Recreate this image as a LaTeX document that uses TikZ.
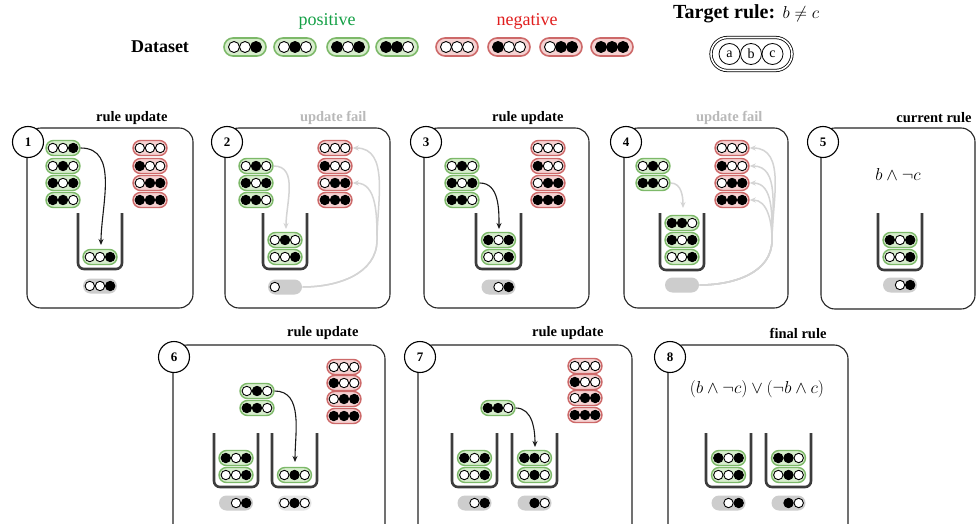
\documentclass[tikz,border=0pt]{standalone}
\usepackage{fontspec}
\setmainfont{Liberation Serif}
\usetikzlibrary{shapes.misc,arrows.meta}
\definecolor{gstroke}{RGB}{125,185,105}
\definecolor{gfill}{RGB}{215,237,205}
\definecolor{rstroke}{RGB}{205,105,105}
\definecolor{rfill}{RGB}{245,210,210}
\definecolor{graypill}{RGB}{205,205,205}
\definecolor{graypilll}{RGB}{228,228,228}
\definecolor{bucketc}{RGB}{60,60,60}
\definecolor{posc}{RGB}{20,160,70}
\definecolor{negc}{RGB}{225,30,30}
\definecolor{failc}{RGB}{185,185,185}
\definecolor{garrc}{RGB}{212,212,212}
\newcommand{\pil}[5]{\node[#2] (#1) at (#3,#4) {};
  \foreach \v [count=\i] in {#5} {\node[dot\v, xshift={(\i-2)*10.2pt}] at (#1.center) {};}}
\newcommand{\bpil}[5]{\node[#2] (#1) at (#3,#4) {};
  \foreach \v [count=\i] in {#5} {\node[dot\v, minimum size=11pt, xshift={(\i-2)*11pt}] at (#1.center) {};}}
\newcommand{\bucketdraw}[4]{\draw[bucketline] (#1,#3) -- (#1,#4) -- (#2,#4) -- (#2,#3);}
\begin{document}
\begin{tikzpicture}[x=1pt,y=-1pt,
  pillbase/.style={rounded rectangle, inner sep=0pt, minimum width=34pt, minimum height=15pt, line width=1.4pt},
  pospill/.style={pillbase, draw=gstroke, fill=gfill},
  negpill/.style={pillbase, draw=rstroke, fill=rfill},
  grypill/.style={pillbase, fill=graypill},
  grylpill/.style={pillbase, fill=graypilll},
  bpospill/.style={pospill, minimum width=42pt, minimum height=18pt, line width=1.6pt},
  bnegpill/.style={negpill, minimum width=42pt, minimum height=18pt, line width=1.6pt},
  dotb/.style={circle, draw=black, fill=black, line width=0.9pt, inner sep=0pt, minimum size=9.4pt},
  dotw/.style={dotb, fill=white},
  dotn/.style={inner sep=0pt, minimum size=9pt},
  bucketline/.style={draw=bucketc, line width=2.6pt, rounded corners=6pt},
  panelbox/.style={draw=black!85, line width=1.1pt, rounded corners=14pt},
  numc/.style={circle, draw=black, fill=white, line width=1.1pt, minimum size=31pt, inner sep=0pt, font=\bfseries\fontsize{13}{15}\selectfont},
  ptitle/.style={anchor=east, font=\bfseries\fontsize{14.5}{16}\selectfont},
  ftitle/.style={ptitle, text=failc},
  mathlbl/.style={font=\fontsize{17.28}{19}\selectfont},
  arr/.style={draw=black!90, line width=1.1pt, -{Stealth[length=6pt,width=5pt]}},
  garr/.style={draw=garrc, line width=1.5pt, -{Stealth[length=6pt,width=5pt]}},
  abcdot/.style={circle, draw=black, line width=0.8pt, minimum size=21pt, inner sep=0pt, font=\fontsize{14}{16}\selectfont}
]
\clip (0,0) rectangle (976,524);
\fill[white] (0,0) rectangle (976,524);

% ---------- header ----------
\node[font=\bfseries\fontsize{18}{20}\selectfont] (ds) at (160,47) {Dataset};
\node[text=posc, font=\fontsize{18}{20}\selectfont] (lp) at (327,21) {positive};
\node[text=negc, font=\fontsize{18}{20}\selectfont] (ln) at (527,21) {negative};
\bpil{d1}{bpospill}{245}{47}{w,w,b}
\bpil{d2}{bpospill}{295}{47}{w,b,w}
\bpil{d3}{bpospill}{348}{47}{b,w,b}
\bpil{d4}{bpospill}{397}{47}{b,b,w}
\bpil{d5}{bnegpill}{457}{47}{w,w,w}
\bpil{d6}{bnegpill}{509}{47}{b,w,w}
\bpil{d7}{bnegpill}{561}{47}{w,b,b}
\bpil{d8}{bnegpill}{612}{47}{b,b,b}
\node[anchor=west, font=\bfseries\fontsize{20}{23}\selectfont, inner sep=0pt] (tr) at (673,14) {Target rule:};
\node[anchor=base west, font=\fontsize{17.28}{19}\selectfont, inner sep=0pt] (trm) at ([xshift=7pt]tr.base east) {$b\neq c$};
\node[rounded rectangle, draw=black, line width=0.8pt, double, double distance=1.6pt, minimum width=81pt, minimum height=33pt, inner sep=0pt] (tp) at (751.5,54) {};
\node[abcdot] (ta) at (729.5,54) {a};
\node[abcdot] (tb) at (751,54) {b};
\node[abcdot] (tc) at (772.5,54) {c};

% ---------- panel 1 ----------
\draw[panelbox] (27,128) rectangle (193,308);
\node[numc] (n1) at (28,142) {1};
\node[ptitle] (t1) at (171,118) {rule update};
\pil{p1a}{pospill}{63}{148}{w,w,b}
\pil{p1b}{pospill}{63}{166}{w,b,w}
\pil{p1c}{pospill}{63}{183}{b,w,b}
\pil{p1d}{pospill}{63}{200}{b,b,w}
\pil{r1a}{negpill}{150}{148}{w,w,w}
\pil{r1b}{negpill}{150}{166}{b,w,w}
\pil{r1c}{negpill}{150}{183}{w,b,b}
\pil{r1d}{negpill}{150}{200}{b,b,b}
\bucketdraw{78}{122}{213}{269}
\pil{k1a}{pospill}{100}{257}{w,w,b}
\pil{g1}{grypill}{100}{286}{w,w,b}
\coordinate (c1) at (101,245);
\draw[arr] (p1a.east) to[out=0,in=90] (c1);

% ---------- panel 2 ----------
\draw[panelbox] (225,128) rectangle (390,308);
\node[numc] (n2) at (227,142) {2};
\node[ftitle] (t2) at (370,118) {update fail};
\pil{p2b}{pospill}{256}{166}{w,b,w}
\pil{p2c}{pospill}{256}{183}{b,w,b}
\pil{p2d}{pospill}{256}{200}{b,b,w}
\pil{r2a}{negpill}{335}{148}{w,w,w}
\pil{r2b}{negpill}{335}{166}{b,w,w}
\pil{r2c}{negpill}{335}{183}{w,b,b}
\pil{r2d}{negpill}{335}{200}{b,b,b}
\bucketdraw{263}{307}{213}{269}
\pil{k2a}{pospill}{285}{240}{w,b,w}
\pil{k2b}{pospill}{285}{257}{w,w,b}
\pil{g2}{grypill}{285}{287}{w,n,n}
\coordinate (c2) at (286,229);
\coordinate (t2k) at (377,240);
\draw[garr] (p2b.east) to[out=0,in=90] (c2);
\draw[garr] (g2.east) to[out=0,in=-90] (t2k) to[out=90,in=0] (r2a.east);
\draw[garr] (g2.east) to[out=0,in=-90] (t2k) to[out=90,in=0] (r2c.east);

% ---------- panel 3 ----------
\draw[panelbox] (424,128) rectangle (589,308);
\node[numc] (n3) at (426,142) {3};
\node[ptitle] (t3) at (567,118) {rule update};
\pil{p3b}{pospill}{462}{166}{w,b,w}
\pil{p3c}{pospill}{462}{183}{b,w,b}
\pil{p3d}{pospill}{462}{200}{b,b,w}
\pil{r3a}{negpill}{548}{148}{w,w,w}
\pil{r3b}{negpill}{548}{166}{b,w,w}
\pil{r3c}{negpill}{548}{183}{w,b,b}
\pil{r3d}{negpill}{548}{200}{b,b,b}
\bucketdraw{476}{521}{213}{269}
\pil{k3a}{pospill}{498.5}{240}{b,w,b}
\pil{k3b}{pospill}{498.5}{257}{w,w,b}
\pil{g3}{grypill}{498.5}{287}{n,w,b}
\coordinate (c3) at (499,229);
\draw[arr] (p3c.east) to[out=0,in=90] (c3);

% ---------- panel 4 ----------
\draw[panelbox] (624,128) rectangle (788,308);
\node[numc] (n4) at (626,142) {4};
\node[ftitle] (t4) at (766,118) {update fail};
\pil{p4b}{pospill}{653}{166}{w,b,w}
\pil{p4d}{pospill}{653}{183}{b,b,w}
\pil{r4a}{negpill}{732}{148}{w,w,w}
\pil{r4b}{negpill}{732}{166}{b,w,w}
\pil{r4c}{negpill}{732}{183}{w,b,b}
\pil{r4d}{negpill}{732}{200}{b,b,b}
\bucketdraw{660}{704}{213}{270}
\pil{k4a}{pospill}{682}{223}{b,b,w}
\pil{k4b}{pospill}{682}{240}{b,w,b}
\pil{k4c}{pospill}{682}{257}{w,w,b}
\pil{g4}{grypill}{682}{285}{n,n,n}
\coordinate (c4) at (683,208);
\coordinate (t4k) at (772,240);
\draw[garr] (p4d.east) to[out=0,in=90] (c4);
\draw[garr] (g4.east) to[out=0,in=-90] (t4k) to[out=90,in=0] (r4a.east);
\draw[garr] (g4.east) to[out=0,in=-90] (t4k) to[out=90,in=0] (r4b.east);
\draw[garr] (g4.east) to[out=0,in=-90] (t4k) to[out=90,in=0] (r4c.east);
\draw[garr] (g4.east) to[out=0,in=-90] (t4k) to[out=90,in=0] (r4d.east);

% ---------- panel 5 ----------
\draw[panelbox] (821,128) rectangle (975,309);
\node[numc] (n5) at (823,142) {5};
\node[ptitle] (t5) at (975,118) {current rule};
\node[mathlbl] (f5) at (898,174) {$b\land\neg c$};
\bucketdraw{878}{922}{213}{270}
\pil{k5a}{pospill}{900}{240}{b,w,b}
\pil{k5b}{pospill}{900}{257}{w,w,b}
\pil{g5}{grypill}{900}{285}{n,w,b}

% ---------- panel 6 ----------
\draw[panelbox] (173,345) rectangle (385,545);
\node[numc] (n6) at (174,357) {6};
\node[ptitle] (t6) at (362,333) {rule update};
\pil{p6b}{pospill}{257}{391}{w,b,w}
\pil{p6d}{pospill}{257}{408}{b,b,w}
\pil{r6a}{negpill}{344}{367}{w,w,w}
\pil{r6b}{negpill}{344}{383}{b,w,w}
\pil{r6c}{negpill}{344}{399}{w,b,b}
\pil{r6d}{negpill}{344}{416}{b,b,b}
\bucketdraw{214}{258}{433}{487}
\bucketdraw{272}{317}{433}{487}
\pil{k6a}{pospill}{236}{458}{b,w,b}
\pil{k6b}{pospill}{236}{475}{w,w,b}
\pil{k6c}{pospill}{294.5}{475}{w,b,w}
\pil{g6a}{grypill}{236}{503}{n,w,b}
\pil{g6b}{grylpill}{294.5}{503}{w,b,w}
\coordinate (c6) at (295,462);
\draw[arr] (p6b.east) to[out=0,in=90] (c6);

% ---------- panel 7 ----------
\draw[panelbox] (418,345) rectangle (632,545);
\node[numc] (n7) at (420,357) {7};
\node[ptitle] (t7) at (607,333) {rule update};
\pil{p7d}{pospill}{498}{408}{b,b,w}
\pil{r7a}{negpill}{585}{366}{w,w,w}
\pil{r7b}{negpill}{585}{382}{b,w,w}
\pil{r7c}{negpill}{585}{398}{w,b,b}
\pil{r7d}{negpill}{585}{415}{b,b,b}
\bucketdraw{452}{497}{433}{487}
\bucketdraw{512}{557}{433}{487}
\pil{k7a}{pospill}{474.5}{458}{b,w,b}
\pil{k7b}{pospill}{474.5}{475}{w,w,b}
\pil{k7c}{pospill}{534.5}{458}{b,b,w}
\pil{k7d}{pospill}{534.5}{475}{w,b,w}
\pil{g7a}{grypill}{474.5}{503}{n,w,b}
\pil{g7b}{grypill}{534.5}{503}{n,b,w}
\coordinate (c7) at (535,447);
\draw[arr] (p7d.east) to[out=0,in=90] (c7);

% ---------- panel 8 ----------
\draw[panelbox] (668,345) rectangle (848,545);
\node[numc] (n8) at (670,357) {8};
\node[ptitle] (t8) at (830,333) {final rule};
\node[mathlbl] (f8) at (757,389) {$(b\land\neg c)\lor(\neg b\land c)$};
\bucketdraw{706}{751}{433}{487}
\bucketdraw{766}{811}{433}{487}
\pil{k8a}{pospill}{728.5}{458}{b,w,b}
\pil{k8b}{pospill}{728.5}{475}{w,w,b}
\pil{k8c}{pospill}{788.5}{458}{b,b,w}
\pil{k8d}{pospill}{788.5}{475}{w,b,w}
\pil{g8a}{grypill}{728.5}{503}{n,w,b}
\pil{g8b}{grypill}{788.5}{503}{n,b,w}
\end{tikzpicture}
\end{document}
